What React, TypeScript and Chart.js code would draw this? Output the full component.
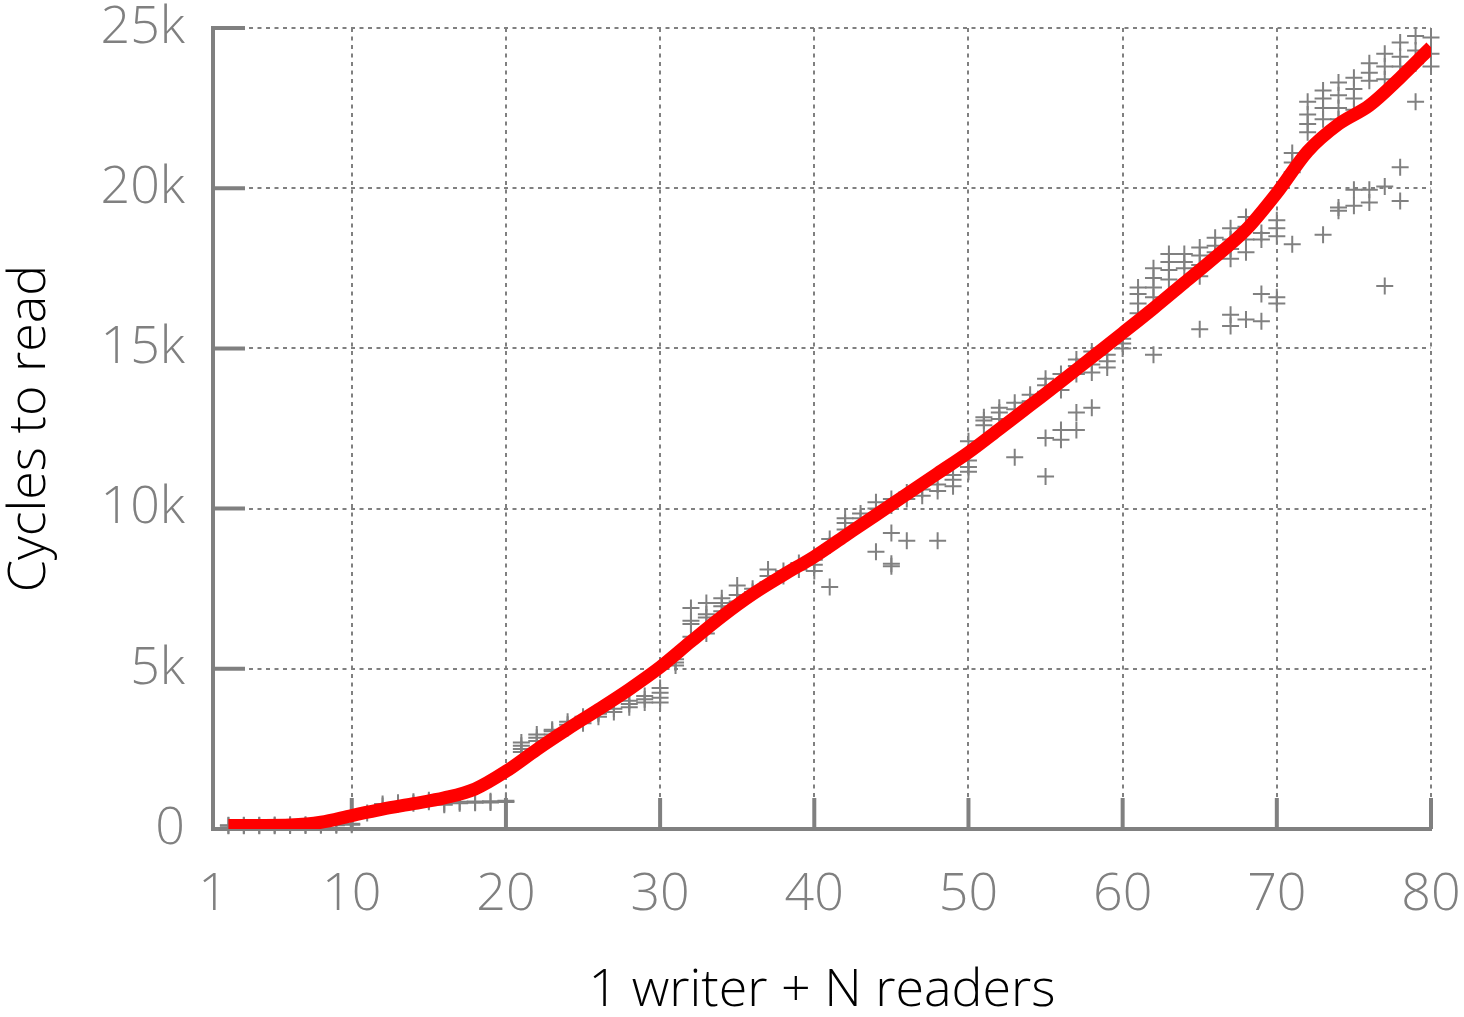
import React, { useEffect, useRef } from 'react';
import { Chart, registerables } from 'chart.js';

Chart.register(...registerables);

// ---- data ----
const xTickValues = [1, 10, 20, 30, 40, 50, 60, 70, 80];
const yTickValues = [0, 5000, 10000, 15000, 20000, 25000];
const yTickLabels = ['0', '5k', '10k', '15k', '20k', '25k'];

const xTitle = '1 writer + N readers';
const yTitle = 'Cycles to read';

// measured samples (x = readers, several runs each)
const sampleN = [
  2, 3, 4, 5, 6, 7, 8, 9, 10, 11, 12, 13, 14, 15, 16, 17, 18, 19, 20,
  21, 22, 23, 24, 25, 26, 27, 28, 29, 30, 31, 32, 33, 34, 35, 36, 37, 38, 39, 40,
  41, 42, 43, 44, 45, 46, 47, 48, 49, 50, 51, 52, 53, 54, 55, 56, 57, 58, 59, 60,
  61, 62, 63, 64, 65, 66, 67, 68, 69, 70, 71, 72, 73, 74, 75, 76, 77, 78, 79, 80,
];
const sampleCycles: number[][] = [
  [100, 120], [100, 115], [105, 120], [100, 125], [110, 130], [110, 135], [115, 140], [120, 145], [130, 160],
  [500], [720, 780], [780, 820], [800, 850], [850, 900], [760, 800], [800, 850], [820, 860], [830, 870], [840, 880],
  [2400, 2500, 2600, 2700], [2750, 2850, 2950], [2950, 3050, 3100], [3150, 3250, 3350], [3300, 3400, 3500],
  [3500, 3600, 3650], [3650, 3750], [3800, 3900, 4000], [3950, 4050, 4150], [3950, 4100, 4250, 4400],
  [5100, 5200, 5300], [6000, 6400, 6500, 6900], [6100, 6600, 6700, 7050], [6800, 6950, 7050, 7200],
  [7100, 7300, 7600], [7400, 7500], [7700, 7900, 8100], [7900, 8050], [8100, 8300], [8050, 8250, 8400],
  [7550, 8850, 9050], [9350, 9550, 9700], [9700, 9850], [8650, 10000, 10200], [8200, 8280, 9240, 10100, 10300],
  [9000, 10300, 10500], [10400, 10600], [9000, 10550, 10750], [10700, 10900, 11050], [11150, 11300, 11500, 12100],
  [12600, 12750, 12850], [12800, 13000, 13150], [11600, 13100, 13300], [13350, 13550],
  [11000, 12200, 13650, 13850, 14050], [12150, 12450, 13700, 14000, 14200], [12450, 13000, 14200, 14450, 14650],
  [13150, 14250, 14500, 14900], [14400, 14600, 14800], [15000, 15150, 15300],
  [16100, 16400, 16700, 16900], [14800, 16600, 16900, 17200, 17500], [17150, 17450, 17700, 17950],
  [17500, 17700, 17950], [15600, 17250, 17600, 17900, 18150], [18000, 18200, 18450],
  [15700, 16050, 17800, 18100, 18400, 18750], [15900, 18000, 18400, 18800, 19100], [15850, 16700, 18400, 18600],
  [16400, 16600, 18500, 18750, 19000], [18250, 20500, 20800, 21100], [21750, 22000, 22300, 22700],
  [18550, 22150, 22500, 22800, 23050], [19300, 19400, 22150, 22500, 22900, 23300],
  [19450, 19950, 22450, 22800, 23100, 23450], [19550, 19950, 23350, 23600, 23900],
  [16950, 20050, 23400, 23800, 24200], [19600, 20650, 23800, 24100, 24550], [22700, 23900, 24300, 24750],
  [23800, 24200, 24700],
];

// smoothed fit curve (read every 2 readers)
const fitN = [2, 4, 6, 8, 10, 12, 14, 16, 18, 20, 22, 24, 26, 28, 30, 32, 34, 36, 38, 40, 42, 44, 46, 48, 50, 52, 54, 56, 58, 60, 62, 64, 66, 68, 70, 72, 74, 76, 78, 80];
const fitCycles = [
  110, 112, 125, 210, 420, 620, 790, 970, 1250, 1800,
  2480, 3120, 3730, 4360, 5050, 5850, 6630, 7330, 7930, 8500,
  9150, 9800, 10450, 11100, 11750, 12480, 13220, 13960, 14720, 15480,
  16250, 17050, 17850, 18700, 19850, 21150, 22000, 22580, 23450, 24400,
];

// ---- style ----
const W = 1464;
const H = 1017;
const AXIS = '#808080';
const FONT = '"Open Sans", "DejaVu Sans", sans-serif';

const innerTicks = {
  id: 'innerTicks',
  beforeDatasetsDraw(chart: any) {
    const { ctx, chartArea, scales } = chart;
    ctx.save();
    ctx.strokeStyle = AXIS;
    ctx.lineWidth = 4;
    ctx.beginPath();
    for (const v of xTickValues.slice(1)) {
      const px = scales.x.getPixelForValue(v);
      ctx.moveTo(px, chartArea.bottom);
      ctx.lineTo(px, chartArea.bottom - 31);
    }
    for (const v of yTickValues.slice(1)) {
      const py = scales.y.getPixelForValue(v);
      ctx.moveTo(chartArea.left, py);
      ctx.lineTo(chartArea.left + 32, py);
    }
    ctx.stroke();
    ctx.restore();
  },
};

const zeroPad = (s: any) => {
  s.paddingLeft = 0;
  s.paddingRight = 0;
  s.paddingTop = 0;
  s.paddingBottom = 0;
};

export default function App() {
  const ref = useRef<HTMLCanvasElement | null>(null);

  useEffect(() => {
    if (!ref.current) return;
    const points: { x: number; y: number }[] = [];
    sampleN.forEach((n, i) => sampleCycles[i].forEach((c) => points.push({ x: n, y: c })));
    const fit = fitN.map((n, i) => ({ x: n, y: fitCycles[i] }));

    const chart = new Chart(ref.current, {
      type: 'scatter',
      data: {
        datasets: [
          {
            type: 'line',
            data: fit,
            borderColor: '#ff0000',
            borderWidth: 13,
            pointRadius: 0,
            cubicInterpolationMode: 'monotone',
            fill: false,
            order: 0,
          } as any,
          {
            type: 'scatter',
            data: points,
            pointStyle: 'cross',
            pointRadius: 8.5,
            pointBorderWidth: 2,
            borderColor: '#808080',
            backgroundColor: '#808080',
            clip: false,
            order: 1,
          } as any,
        ],
      },
      options: {
        responsive: false,
        animation: false,
        devicePixelRatio: 1,
        layout: { padding: { left: 0, top: 28, right: 33, bottom: 0 } },
        plugins: { legend: { display: false }, tooltip: { enabled: false } },
        events: [],
        scales: {
          x: {
            type: 'linear',
            min: 1,
            max: 80,
            afterBuildTicks: (s: any) => {
              s.ticks = xTickValues.map((v) => ({ value: v }));
            },
            afterFit: (s: any) => {
              s.height = H - 829;
              zeroPad(s);
            },
            ticks: {
              color: AXIS,
              font: { family: FONT, size: 52, weight: '300', lineHeight: 1 },
              padding: 40,
              callback: (v: any) => String(v),
              maxRotation: 0,
            },
            grid: { color: AXIS, lineWidth: 2, drawTicks: false },
            border: { display: true, color: AXIS, width: 4, dash: [4, 4.5] },
            title: {
              display: true,
              text: xTitle,
              color: '#000',
              font: { family: FONT, size: 52, weight: '300', lineHeight: 1 },
              padding: { top: 0, bottom: 0 },
            },
          },
          y: {
            type: 'linear',
            min: 0,
            max: 25000,
            afterBuildTicks: (s: any) => {
              s.ticks = yTickValues.map((v) => ({ value: v }));
            },
            afterFit: (s: any) => {
              s.width = 213;
              zeroPad(s);
            },
            ticks: {
              color: AXIS,
              font: { family: FONT, size: 52, weight: '300', lineHeight: 1 },
              padding: 28,
              callback: (v: any) => yTickLabels[yTickValues.indexOf(Number(v))] ?? '',
            },
            grid: { color: AXIS, lineWidth: 2, drawTicks: false },
            border: { display: true, color: AXIS, width: 4, dash: [4, 4.5] },
            title: {
              display: true,
              text: yTitle,
              color: '#000',
              font: { family: FONT, size: 52, weight: '300', lineHeight: 1 },
              padding: { top: 4, bottom: 0 },
            },
          },
        },
      },
      plugins: [innerTicks],
    } as any);
    return () => chart.destroy();
  }, []);

  return (
    <div style={{ position: 'fixed', left: 0, top: 0, width: W, height: H, background: '#fff' }}>
      <canvas ref={ref} width={W} height={H} style={{ display: 'block', width: W, height: H }} />
    </div>
  );
}
